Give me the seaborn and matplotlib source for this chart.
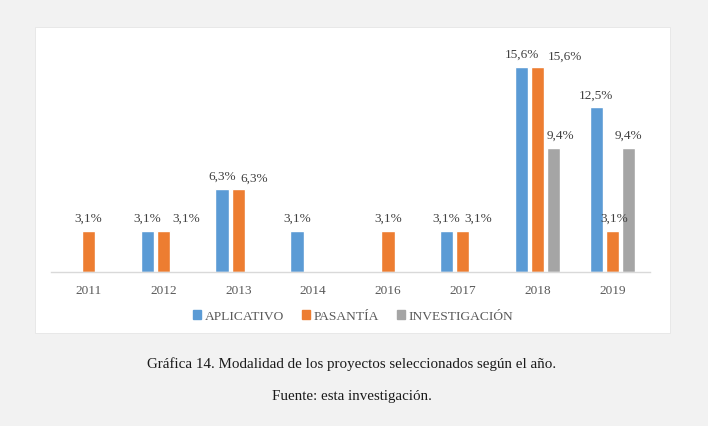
import matplotlib
matplotlib.use("Agg")
import matplotlib.pyplot as plt
from matplotlib.patches import Rectangle
import numpy as np
import pandas as pd
import seaborn as sns

years = ["2011", "2012", "2013", "2014", "2016", "2017", "2018", "2019"]
modalidades = ["APLICATIVO", "PASANTÍA", "INVESTIGACIÓN"]
aplicativo = [0, 3.1, 6.3, 3.1, 0, 3.1, 15.6, 12.5]
pasantia = [3.1, 3.1, 6.3, 0, 3.1, 3.1, 15.6, 3.1]
investigacion = [0, 0, 0, 0, 0, 0, 9.4, 9.4]

colors = ["#5B9BD5", "#ED7D31", "#A5A5A5"]

# label nudges (px) so labels don't collide, like Excel does
nudge = {(1, 1): (23, 0), (1, 2): (16, -2), (1, 5): (15, 0),
         (1, 6): (27, -2), (2, 6): (7, 0), (1, 7): (2, 0)}

df = pd.DataFrame({
    "year": years * 3,
    "modalidad": np.repeat(modalidades, len(years)),
    "value": aplicativo + pasantia + investigacion,
})

sns.set_style("white")
plt.rcParams["font.family"] = ["Liberation Serif", "DejaVu Serif"]

fig = plt.figure(figsize=(7.08, 4.27), dpi=100)
fig.patch.set_facecolor("#f2f2f2")
fig.patches.append(Rectangle((35 / 708, 1 - 334 / 427), 635 / 708, 306 / 427,
                             transform=fig.transFigure, facecolor="white",
                             edgecolor="#e6e6e6", lw=0.6, zorder=-10))

ax = fig.add_axes([51 / 708, 1 - 273 / 427, 599 / 708, 237 / 427])
ax.set_facecolor("none")
sns.barplot(data=df, x="year", y="value", hue="modalidad", order=years,
            hue_order=modalidades, palette=colors, width=0.645, gap=0.17,
            saturation=1, ax=ax, legend=True)

ax.set_ylim(0, 18)
ax.set_xlim(-0.5, len(years) - 0.5)
ax.set_xlabel("")
ax.set_ylabel("")
ax.set_yticks([])
for s in ["top", "left", "right"]:
    ax.spines[s].set_visible(False)
ax.spines["bottom"].set_color("#d9d9d9")
ax.spines["bottom"].set_linewidth(1)
ax.tick_params(axis="x", length=0, pad=9, labelsize=9.5, labelcolor="#595959")

for i, cont in enumerate(ax.containers):
    for j, bar in enumerate(cont):
        v = bar.get_height()
        if v <= 0:
            continue
        dx, dy = nudge.get((i, j), (0, 0))
        ax.annotate(f"{v:.1f}%".replace(".", ","),
                    (bar.get_x() + bar.get_width() / 2, v),
                    xytext=(dx * 0.72, (13 + dy) * 0.72), textcoords="offset points",
                    ha="center", va="center", fontsize=9.5, color="#404040")

ax.get_legend().remove()
handles = [Rectangle((0, 0), 1, 1, color=c) for c in colors]
fig.legend(handles, modalidades, loc="center", bbox_to_anchor=(0.4986, 1 - 317 / 427),
           ncol=3, frameon=False, handlelength=0.6, handleheight=0.6,
           handletextpad=0.3, columnspacing=1.3, fontsize=9.7, labelcolor="#595959")

fig.text(0.497, 1 - 364 / 427,
         "Gráfica 14. Modalidad de los proyectos seleccionados según el año.",
         ha="center", va="center", fontsize=10.8, color="#1a1a1a")
fig.text(0.497, 1 - 397 / 427, "Fuente: esta investigación.",
         ha="center", va="center", fontsize=10.8, color="#1a1a1a")

fig.savefig("out.png", dpi=100, facecolor=fig.get_facecolor())
